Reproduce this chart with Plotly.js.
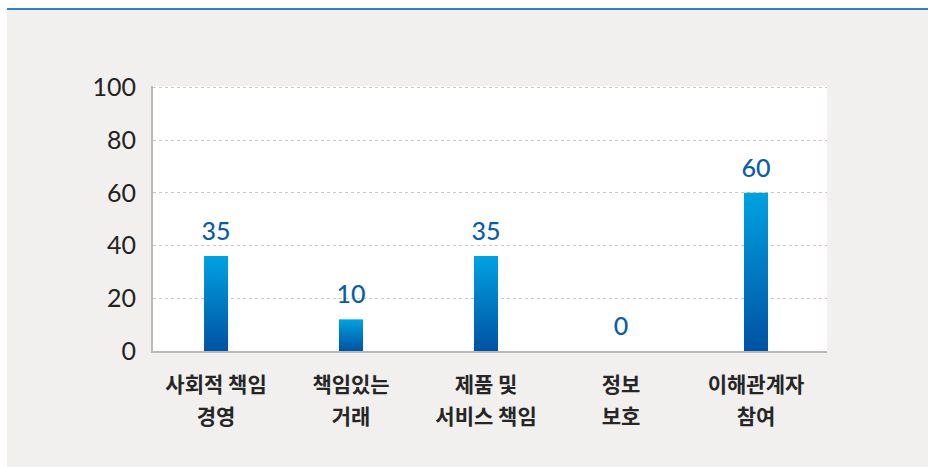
<!DOCTYPE html>
<html>
<head>
<meta charset="utf-8">
<script src="https://cdn.plot.ly/plotly-3.0.1.min.js"></script>
<style>
  html, body { margin: 0; padding: 0; background: #ffffff; }
  #frame { position: absolute; left: 7px; top: 10px; width: 921px; height: 457px; background: #f1f0ee; }
  #topline { position: absolute; left: 7px; top: 8px; width: 921px; height: 2px; background: #2f7fc6; }
  #chart { position: absolute; left: 0; top: 0; width: 932px; height: 467px; }
</style>
</head>
<body>
<div id="frame"></div>
<div id="topline"></div>
<div id="chart"></div>
<script>
// Data
var categoryLine1 = ['사회적 책임', '책임있는', '제품 및', '정보', '이해관계자'];
var categoryLine2 = ['경영', '거래', '서비스 책임', '보호', '참여'];
var barHeights = [36, 12, 36, 0, 60];          // bar heights as drawn in the picture
var valueLabels = ['35', '10', '35', '0', '60']; // value labels printed above the bars
var yTicks = [0, 20, 40, 60, 80, 100];

var xIdx = categoryLine1.map(function (c, i) { return i; });

var catFont = { family: '"Noto Sans CJK KR", sans-serif', size: 21, color: '#262626', weight: 600 };

var traces = [
  {
    type: 'bar',
    x: xIdx,
    y: barHeights,
    marker: { color: '#0077c4', line: { width: 0 } },
    hoverinfo: 'skip',
    showlegend: false
  },
  {
    type: 'scatter',
    mode: 'markers+text',
    x: xIdx,
    y: barHeights,
    text: valueLabels,
    textposition: 'top center',
    textfont: { family: 'Lato, sans-serif', size: 25, color: '#0b5bab', weight: 500 },
    marker: { size: 14, opacity: 0 },
    hoverinfo: 'skip',
    showlegend: false,
    cliponaxis: false
  },
  {
    // carrier trace for the second line of category labels
    type: 'scatter',
    mode: 'markers',
    x: xIdx,
    y: barHeights,
    xaxis: 'x2',
    marker: { size: 1, opacity: 0 },
    hoverinfo: 'skip',
    showlegend: false
  }
];

var layout = {
  width: 932,
  height: 467,
  margin: { l: 153, r: 105, t: 86, b: 116, pad: 0 },
  paper_bgcolor: 'rgba(0,0,0,0)',
  plot_bgcolor: '#ffffff',
  bargap: 0.822,
  showlegend: false,
  xaxis: {
    range: [-0.467, 4.526],
    tickmode: 'array',
    tickvals: xIdx,
    ticktext: categoryLine1,
    showgrid: false,
    zeroline: false,
    showline: true,
    linecolor: '#b9b9b9',
    linewidth: 2,
    ticks: '',
    ticklabelstandoff: 14,
    tickfont: catFont,
    fixedrange: true
  },
  xaxis2: {
    overlaying: 'x',
    matches: 'x',
    anchor: 'y',
    side: 'bottom',
    tickmode: 'array',
    tickvals: xIdx,
    ticktext: categoryLine2,
    showgrid: false,
    zeroline: false,
    showline: false,
    ticks: '',
    ticklabelstandoff: 51,
    tickfont: catFont,
    fixedrange: true
  },
  yaxis: {
    range: [0, 100.5],
    tickmode: 'array',
    tickvals: yTicks,
    ticktext: yTicks.map(String),
    showgrid: true,
    gridcolor: '#c9c9c9',
    griddash: 'dot',
    gridwidth: 1,
    zeroline: false,
    showline: true,
    linecolor: '#b9b9b9',
    linewidth: 2,
    ticks: '',
    ticklabelstandoff: 10,
    tickfont: { family: 'Lato, sans-serif', size: 25, color: '#222222' },
    fixedrange: true
  }
};

Plotly.newPlot('chart', traces, layout, { staticPlot: true, displayModeBar: false }).then(function (gd) {
  // vertical gradient fill for bars (light blue top -> dark blue bottom)
  var svg = gd.querySelector('svg.main-svg');
  var ns = 'http://www.w3.org/2000/svg';
  var defs = svg.querySelector('defs') || svg.insertBefore(document.createElementNS(ns, 'defs'), svg.firstChild);
  var grad = document.createElementNS(ns, 'linearGradient');
  grad.setAttribute('id', 'barGrad');
  grad.setAttribute('x1', '0'); grad.setAttribute('y1', '0');
  grad.setAttribute('x2', '0'); grad.setAttribute('y2', '1');
  [['0', '#00a2e1'], ['1', '#0052a2']].forEach(function (s) {
    var st = document.createElementNS(ns, 'stop');
    st.setAttribute('offset', s[0]);
    st.setAttribute('stop-color', s[1]);
    grad.appendChild(st);
  });
  defs.appendChild(grad);
  gd.querySelectorAll('.bars .point path').forEach(function (p) {
    p.style.fill = 'url(#barGrad)';
  });
});
</script>
</body>
</html>
